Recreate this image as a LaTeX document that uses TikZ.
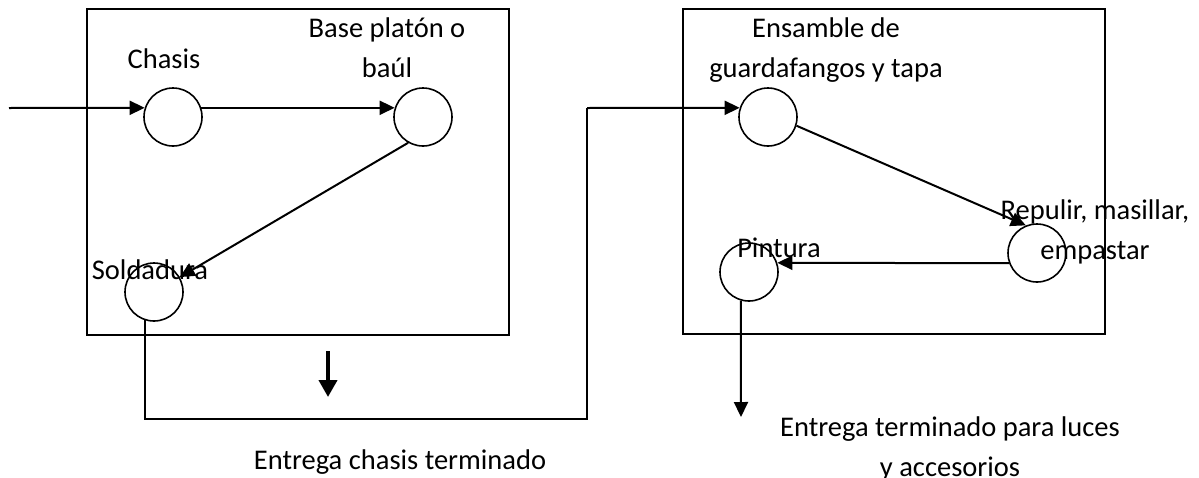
\documentclass[tikz,border=0pt]{standalone}
\usepackage{fontspec}
\setmainfont{Carlito}
\usetikzlibrary{arrows.meta}
\begin{document}
\begin{tikzpicture}[x=1pt,y=-1pt,
  lbl/.style={inner sep=0pt,align=center,anchor=base,font=\fontsize{28.5}{40}\selectfont},
  proc/.style={circle,draw,line width=1.6pt,minimum size=58pt,inner sep=0pt},
  frame/.style={draw,line width=1.6pt},
  conn/.style={line width=2pt,-{Triangle[length=15pt,width=14pt]}},
  plain/.style={line width=1.8pt},
  thick arrow/.style={line width=4pt,-{Triangle[length=17pt,width=18pt]}}]
\useasboundingbox (0,0) rectangle (1199,477);
% frames
\draw[frame] (87,9) rectangle (509,335);
\draw[frame] (683,9) rectangle (1105,334);
% process circles
\node[proc] (chasis) at (173,117) {};
\node[proc] (base) at (423,117) {};
\node[proc] (sold) at (154,292) {};
\node[proc] (ens) at (768,117) {};
\node[proc] (rep) at (1037,253) {};
\node[proc] (pin) at (749,272) {};
% labels (base anchor = baseline of last line)
\node[lbl] (lchasis) at (164,68) {Chasis};
\node[lbl] (lbase) at (387,77) {Base platón o\\baúl};
\node[lbl] (lsold) at (150,279) {Soldadura};
\node[lbl] (lens) at (826,77) {Ensamble de\\guardafangos y tapa};
\node[lbl] (lrep) at (1095,259) {Repulir, masillar,\\empastar};
\node[lbl] (lpin) at (779,257) {Pintura};
\node[lbl] (lout1) at (400,469) {Entrega chasis terminado};
\node[lbl] (lout2) at (950,476) {Entrega terminado para luces\\y accesorios};
% coordinates
\coordinate (in) at (9,108);
\coordinate (c1) at (587,419);
\coordinate (c2) at (587,108);
\coordinate (t1) at (328,351);
\coordinate (t2) at (328,397);
\coordinate (pout) at (741,417);
% connectors
\draw[conn] (in) -- (chasis.162);
\draw[conn] (chasis.18) -- (base.162);
\draw[conn] (base.240) -- (sold.30);
\draw[plain] (sold.252) -- (sold.252 |- c1) -- (c1) -- (c2);
\draw[conn] (c2) -- (ens.162);
\draw[conn] (ens.-17) -- (rep.112);
\draw[conn] (rep.200) -- (pin.18);
\draw[conn] (pin.254) -- (pout);
\draw[thick arrow] (t1) -- (t2);
\end{tikzpicture}
\end{document}
